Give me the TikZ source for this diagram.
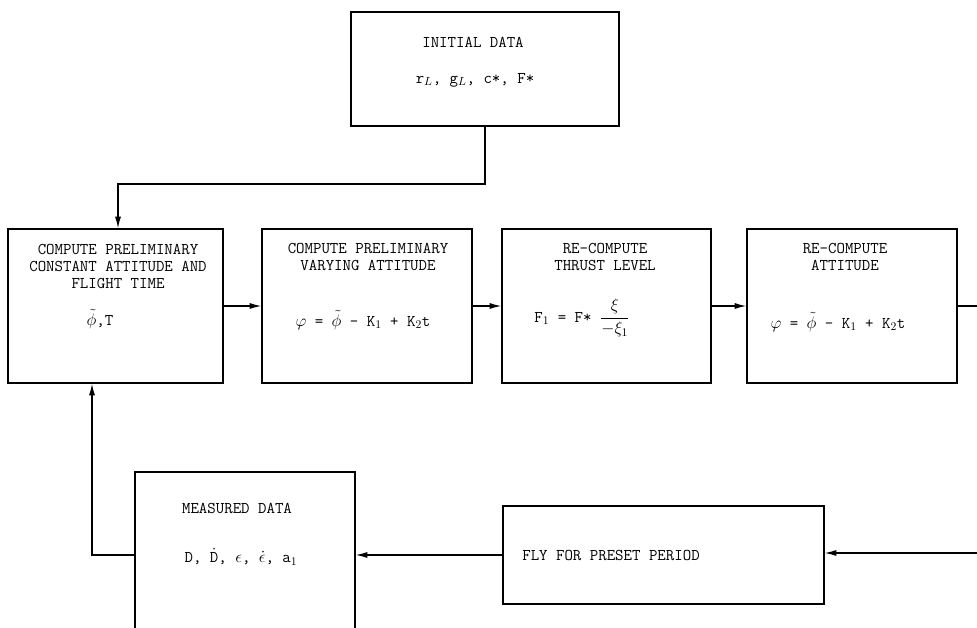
\documentclass[tikz,border=0pt]{standalone}
\usepackage{amsmath}
\usetikzlibrary{arrows.meta,positioning,calc}
\tikzset{
  blk/.style={draw,line width=1.1pt,inner sep=0pt},
  lbl/.style={font=\ttfamily\fontsize{14}{14.5}\selectfont,align=center,inner sep=0pt},
  conn/.style={line width=1.1pt},
  flow/.style={conn,-{Latex[length=3.5mm,width=1.8mm]}}
}
\begin{document}
\begin{tikzpicture}[x=0.03cm,y=-0.03cm]
  \clip (0,0) rectangle (977,628);
  %% boxes
  \node[blk,minimum width=8.04cm,minimum height=3.42cm] (init) at (485,69) {};
  \node[blk,minimum width=6.45cm,minimum height=4.62cm] (pre1) at (115.5,306) {};
  \node[blk,minimum width=6.3cm,minimum height=4.62cm] (pre2) at (367,306) {};
  \node[blk,minimum width=6.27cm,minimum height=4.62cm] (thr) at (606.5,306) {};
  \node[blk,minimum width=6.3cm,minimum height=4.62cm] (att) at (852,306) {};
  \node[blk,minimum width=6.6cm,minimum height=5.64cm] (meas) at (245,566) {};
  \node[blk,minimum width=9.63cm,minimum height=2.94cm] (fly) at (663.5,555) {};
  %% texts
  \node[lbl] (initT) at (473,42) {INITIAL DATA};
  \node[lbl] (initV) at (475,80) {r$_L$, g$_L$, c*, F*};
  \node[lbl] (pre1T) at (118,266) {COMPUTE PRELIMINARY\\CONSTANT ATTITUDE AND\\FLIGHT TIME};
  \node[lbl] (pre1V) at (100,319) {$\tilde{\phi}$,T};
  \node[lbl] (pre2T) at (368,257) {COMPUTE PRELIMINARY\\VARYING ATTITUDE};
  \node[lbl] (pre2V) at (363,320) {$\varphi$ = $\tilde{\phi}$ - K$_1$ + K$_2$t};
  \node[lbl] (thrT) at (605,257) {RE-COMPUTE\\THRUST LEVEL};
  \node[lbl] (thrV) at (582,318) {F$_1$ = F* $\dfrac{\xi}{-\xi_1}$};
  \node[lbl] (attT) at (845,257) {RE-COMPUTE\\ATTITUDE};
  \node[lbl] (attV) at (838,322) {$\varphi$ = $\tilde{\phi}$ - K$_1$ + K$_2$t};
  \node[lbl] (measT) at (237,508) {MEASURED DATA};
  \node[lbl] (measV) at (241,557) {D, $\dot{\text{D}}$, $\epsilon$, $\dot{\epsilon}$, a$_1$};
  \node[lbl] (flyT) at (611,555) {FLY FOR PRESET PERIOD};
  %% connectors
  \coordinate (topJ) at (118,184);
  \coordinate (leftJ) at (92,555);
  \coordinate (rightOut) at (977,306);
  \coordinate (rightIn) at (977,553);
  \draw[flow] (init.south) |- (topJ) -- (topJ |- pre1.north);
  \draw[flow] (pre1) -- (pre2);
  \draw[flow] (pre2) -- (thr);
  \draw[flow] (thr) -- (att);
  \draw[conn] (att.east) -- (rightOut);
  \draw[flow] (rightIn) -- (rightIn -| fly.east);
  \draw[flow] (fly.west) -- (fly.west -| meas.east);
  \draw[flow] (leftJ -| meas.west) -- (leftJ) -- (leftJ |- pre1.south);
\end{tikzpicture}
\end{document}
